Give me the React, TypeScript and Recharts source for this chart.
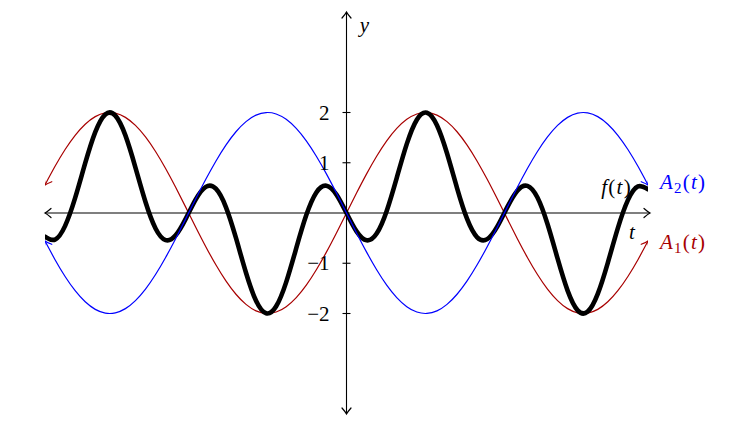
import React from "react";
import { LineChart, Line, XAxis, YAxis, ReferenceLine, ReferenceDot } from "recharts";

const tValues = [-6.0,-5.8,-5.6,-5.4,-5.2,-5.0,-4.8,-4.6,-4.4,-4.2,-4.0,-3.8,-3.6,-3.4,-3.2,-3.0,-2.8,-2.6,-2.4,-2.2,-2.0,-1.8,-1.6,-1.4,-1.2,-1.0,-0.8,-0.6,-0.4,-0.2,0,0.2,0.4,0.6,0.8,1.0,1.2,1.4,1.6,1.8,2.0,2.2,2.4,2.6,2.8,3.0,3.2,3.4,3.6,3.8,4.0,4.2,4.4,4.6,4.8,5.0,5.2,5.4,5.6,5.8,6.0];

const a1Values = [0.559,0.929,1.263,1.546,1.767,1.918,1.992,1.987,1.903,1.743,1.514,1.224,0.885,0.511,0.117,-0.282,-0.670,-1.031,-1.351,-1.617,-1.819,-1.948,-1.999,-1.971,-1.864,-1.683,-1.435,-1.129,-0.779,-0.397,0,0.397,0.779,1.129,1.435,1.683,1.864,1.971,1.999,1.948,1.819,1.617,1.351,1.031,0.670,0.282,-0.117,-0.511,-0.885,-1.224,-1.514,-1.743,-1.903,-1.987,-1.992,-1.918,-1.767,-1.546,-1.263,-0.929,-0.559];

const a2Values = [-0.559,-0.929,-1.263,-1.546,-1.767,-1.918,-1.992,-1.987,-1.903,-1.743,-1.514,-1.224,-0.885,-0.511,-0.117,0.282,0.670,1.031,1.351,1.617,1.819,1.948,1.999,1.971,1.864,1.683,1.435,1.129,0.779,0.397,0,-0.397,-0.779,-1.129,-1.435,-1.683,-1.864,-1.971,-1.999,-1.948,-1.819,-1.617,-1.351,-1.031,-0.670,-0.282,0.117,0.511,0.885,1.224,1.514,1.743,1.903,1.987,1.992,1.918,1.767,1.546,1.263,0.929,0.559];

const fValues = [-0.472,-0.528,-0.256,0.300,0.991,1.609,1.962,1.937,1.544,0.905,0.220,-0.307,-0.539,-0.444,-0.116,0.271,0.520,0.483,0.118,-0.497,-1.189,-1.747,-1.996,-1.857,-1.375,-0.700,-0.042,0.409,0.543,0.366,0,-0.366,-0.543,-0.409,0.042,0.700,1.375,1.857,1.996,1.747,1.189,0.497,-0.118,-0.483,-0.520,-0.271,0.116,0.444,0.539,0.307,-0.220,-0.905,-1.544,-1.937,-1.962,-1.609,-0.991,-0.300,0.256,0.528,0.472];

const yTicks = [-2, -1, 1, 2];
const yTickLabels = ["\u22122", "\u22121", "1", "2"];

const xDomain = [-6, 6];
const yDomain = [-4, 4];

const data = tValues.map((t, i) => ({ t, a1: a1Values[i], a2: a2Values[i], f: fValues[i] }));
const last = tValues.length - 1;

const RED = "#a80000";
const BLUE = "#0000ff";
const FONT = "'Liberation Serif', serif";

const Markers = () => (
  <svg width={0} height={0} style={{ position: "absolute" }}>
    <defs>
      {[
        ["arrK", "#000"],
        ["arrR", RED],
        ["arrB", BLUE],
      ].map(([id, c]) => (
        <marker
          key={id}
          id={id}
          viewBox="-10 -10 20 20"
          markerWidth={20}
          markerHeight={20}
          refX={0}
          refY={0}
          orient="auto-start-reverse"
          markerUnits="userSpaceOnUse"
        >
          <path d="M -6 -4.5 Q -2 -1 0 0 Q -2 1 -6 4.5" fill="none" stroke={c} strokeWidth={1.2} strokeLinecap="round" />
        </marker>
      ))}
    </defs>
  </svg>
);

export default function App() {
  return (
    <div style={{ width: 715, height: 418, fontFamily: FONT }}>
      <Markers />
      <LineChart width={715} height={418} data={data} margin={{ top: 4, right: 75, bottom: 12, left: 37 }}>
        <XAxis type="number" dataKey="t" domain={xDomain} hide allowDataOverflow />
        <YAxis type="number" domain={yDomain} hide allowDataOverflow />
        <ReferenceLine
          y={0}
          shape={(p: any) => (
            <line x1={p.x1} y1={p.y1} x2={p.x2 + 2} y2={p.y2} stroke="#000" strokeWidth={1.1} markerStart="url(#arrK)" markerEnd="url(#arrK)" />
          )}
        />
        <ReferenceLine
          x={0}
          shape={(p: any) => (
            <line x1={p.x1} y1={p.y1} x2={p.x2} y2={p.y2} stroke="#000" strokeWidth={1.1} markerStart="url(#arrK)" markerEnd="url(#arrK)" />
          )}
        />
        {yTicks.map((v, i) => (
          <ReferenceDot
            key={v}
            x={0}
            y={v}
            ifOverflow="visible"
            shape={(p: any) => (
              <g>
                <line x1={p.cx - 4} y1={p.cy} x2={p.cx + 4} y2={p.cy} stroke="#000" strokeWidth={1.1} />
                <text x={p.cx - 17} y={p.cy + 7} textAnchor="end" fontSize={21} fontFamily={FONT} fill="#000">
                  {yTickLabels[i]}
                </text>
              </g>
            )}
          />
        ))}
        <ReferenceDot
          x={xDomain[1]}
          y={0}
          ifOverflow="visible"
          shape={(p: any) => (
            <text x={p.cx - 16} y={p.cy + 26} textAnchor="middle" fontSize={21} fontStyle="italic" fontFamily={FONT} fill="#000">
              t
            </text>
          )}
        />
        <ReferenceDot
          x={0}
          y={yDomain[1]}
          ifOverflow="visible"
          shape={(p: any) => (
            <text x={p.cx + 18} y={p.cy + 20} textAnchor="middle" fontSize={21} fontStyle="italic" fontFamily={FONT} fill="#000">
              y
            </text>
          )}
        />
        <Line
          dataKey="a1"
          type="natural"
          stroke={RED}
          strokeWidth={1.2}
          dot={false}
          isAnimationActive={false}
          markerStart="url(#arrR)"
          markerEnd="url(#arrR)"
        />
        <Line
          dataKey="f"
          type="natural"
          stroke="#000"
          strokeWidth={4.6}
          strokeLinecap="round"
          strokeLinejoin="round"
          dot={false}
          isAnimationActive={false}
        />
        <Line
          dataKey="a2"
          type="natural"
          stroke={BLUE}
          strokeWidth={1.2}
          dot={false}
          isAnimationActive={false}
          markerStart="url(#arrB)"
          markerEnd="url(#arrB)"
        />
        <ReferenceDot
          x={tValues[last]}
          y={fValues[last]}
          ifOverflow="visible"
          shape={(p: any) => (
            <text x={p.cx - 16} y={p.cy + 5} textAnchor="end" fontSize={21} fontFamily={FONT} fill="#000" letterSpacing={1.3}>
              <tspan fontStyle="italic">f</tspan>(<tspan fontStyle="italic">t</tspan>)
            </text>
          )}
        />
        <ReferenceDot
          x={tValues[last]}
          y={a2Values[last]}
          ifOverflow="visible"
          shape={(p: any) => (
            <text x={p.cx + 12} y={p.cy + 4} fontSize={21} fontFamily={FONT} fill={BLUE} letterSpacing={1.2}>
              <tspan fontStyle="italic">A</tspan>
              <tspan fontSize={15} dy={4}>2</tspan>
              <tspan dy={-4}>(</tspan>
              <tspan fontStyle="italic">t</tspan>)
            </text>
          )}
        />
        <ReferenceDot
          x={tValues[last]}
          y={a1Values[last]}
          ifOverflow="visible"
          shape={(p: any) => (
            <text x={p.cx + 12} y={p.cy + 8} fontSize={21} fontFamily={FONT} fill={RED} letterSpacing={1.2}>
              <tspan fontStyle="italic">A</tspan>
              <tspan fontSize={15} dy={4}>1</tspan>
              <tspan dy={-4}>(</tspan>
              <tspan fontStyle="italic">t</tspan>)
            </text>
          )}
        />
      </LineChart>
    </div>
  );
}
